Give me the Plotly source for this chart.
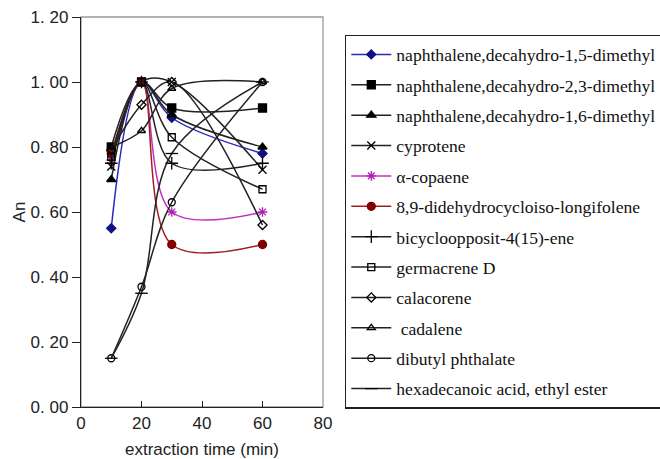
import plotly.graph_objects as go

x_min = [10, 20, 30, 60]

names = [
    "naphthalene,decahydro-1,5-dimethyl",
    "naphthalene,decahydro-2,3-dimethyl",
    "naphthalene,decahydro-1,6-dimethyl",
    "cyprotene",
    "α-copaene",
    "8,9-didehydrocycloiso-longifolene",
    "bicycloopposit-4(15)-ene",
    "germacrene D",
    "calacorene",
    " cadalene",
    "dibutyl phthalate",
    "hexadecanoic acid, ethyl ester",
]

naph_15 = [0.55, 1.00, 0.89, 0.78]
naph_23 = [0.80, 1.00, 0.92, 0.92]
naph_16 = [0.70, 1.00, 0.90, 0.80]
cyprotene = [0.74, 1.00, 1.00, 0.73]
copaene = [0.76, 1.00, 0.60, 0.60]
longifolene = [0.78, 1.00, 0.50, 0.50]
bicyclo = [0.75, 1.00, 0.75, 0.75]
germacrene = [0.77, 1.00, 0.83, 0.67]
calacorene = [0.79, 0.93, 1.00, 0.56]
cadalene = [0.80, 0.85, 0.98, 1.00]
dibutyl = [0.15, 0.37, 0.63, 1.00]
hexadecanoic = [0.15, 0.35, 0.78, 1.00]

series = [naph_15, naph_23, naph_16, cyprotene, copaene, longifolene,
          bicyclo, germacrene, calacorene, cadalene, dibutyl, hexadecanoic]

line_colors = ["#2828c0", "#222222", "#222222", "#222222", "#c030c0", "#a02020",
               "#222222", "#222222", "#222222", "#222222", "#222222", "#222222"]
marker_colors = ["#101080", "#000000", "#000000", "#000000", "#b020b0", "#800000",
                 "#000000", "#000000", "#000000", "#000000", "#000000", "#000000"]
symbols = ["diamond", "square", "triangle-up", "x-thin-open", "asterisk-open", "circle",
           "cross-thin-open", "square-open", "diamond-open", "triangle-up-open",
           "circle-open", "line-ew-open"]
sizes = [7, 8, 8, 8, 8, 8, 9, 7, 7, 7, 7, 9]

fig = go.Figure()
for i, (nm, ys) in enumerate(zip(names, series)):
    fig.add_trace(go.Scatter(
        x=x_min, y=ys, name=nm, mode="lines+markers",
        legendgroup="g%d" % i,
        line=dict(color=line_colors[i], width=1.5, shape="spline", smoothing=1.0),
        marker=dict(symbol=symbols[i], size=sizes[i], color=marker_colors[i],
                    line=dict(color=marker_colors[i], width=1.3)),
    ))

y_vals = [0, 0.2, 0.4, 0.6, 0.8, 1.0, 1.2]
y_text = ["0. 00", "0. 20", "0. 40", "0. 60", "0. 80", "1. 00", "1. 20"]
x_vals = [0, 20, 40, 60, 80]

fig.update_layout(
    width=660, height=459,
    margin=dict(l=81, r=337, t=17, b=52, autoexpand=False),
    paper_bgcolor="white", plot_bgcolor="white",
    font=dict(family="Liberation Sans, Arial, sans-serif", size=17, color="#222222"),
    xaxis=dict(range=[0, 80], tickvals=x_vals, ticks="inside", ticklen=6,
               tickcolor="#222222", showline=True, linecolor="#222222", linewidth=1.4,
               showgrid=False, zeroline=False, automargin=False,
               title=dict(text="extraction time (min)", standoff=15,
                          font=dict(size=17))),
    yaxis=dict(range=[0, 1.2], tickvals=y_vals, ticktext=y_text, ticks="outside",
               ticklen=8, tickcolor="#222222", showline=True, linecolor="#222222",
               linewidth=1.4, showgrid=False, zeroline=False, automargin=False,
               title=dict(text="An", standoff=0, font=dict(size=17))),
    legend=dict(x=1.09, xanchor="left", y=0.954, yanchor="top",
                bordercolor="#222222", borderwidth=1.5, bgcolor="white",
                font=dict(family="Liberation Serif, Times New Roman, serif", size=17.6,
                          color="#111111"),
                tracegroupgap=4.5, itemwidth=40, maxheight=430),
    shapes=[dict(type="rect", xref="paper", yref="paper", x0=0, y0=0, x1=1, y1=1,
                 line=dict(color="#999999", width=1.3), layer="below")],
)

fig.write_html("out.html", config={"displayModeBar": False},
               post_script="document.body.style.margin='0px';document.body.style.overflow='hidden';")
